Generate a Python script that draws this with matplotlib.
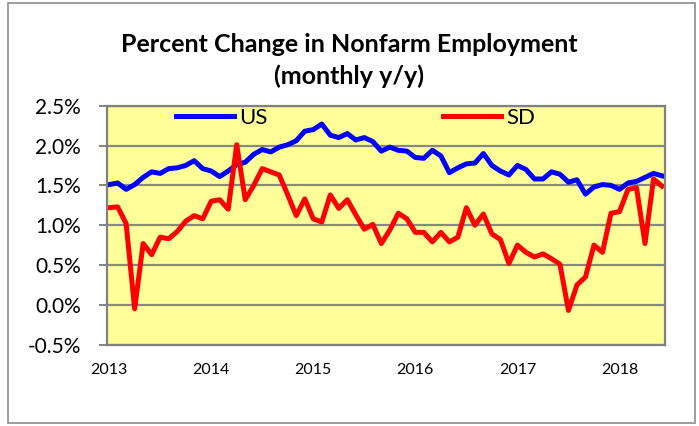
import matplotlib
matplotlib.use('Agg')
import matplotlib.pyplot as plt
from matplotlib.patches import Rectangle

# monthly y/y % change, Jan 2013 - Jun 2018
us = [1.51, 1.53, 1.45, 1.51, 1.60, 1.67, 1.65, 1.71, 1.72, 1.75, 1.81, 1.71,
      1.68, 1.61, 1.68, 1.76, 1.79, 1.89, 1.95, 1.92, 1.98, 2.01, 2.06, 2.18,
      2.20, 2.27, 2.13, 2.10, 2.15, 2.07, 2.10, 2.05, 1.93, 1.98, 1.94, 1.93,
      1.85, 1.84, 1.94, 1.87, 1.66, 1.72, 1.77, 1.78, 1.90, 1.75, 1.68, 1.63,
      1.75, 1.70, 1.58, 1.58, 1.67, 1.64, 1.54, 1.57, 1.39, 1.48, 1.51, 1.50,
      1.45, 1.53, 1.55, 1.60, 1.65, 1.62]
sd = [1.22, 1.23, 1.02, -0.05, 0.77, 0.63, 0.85, 0.83, 0.92, 1.05, 1.12, 1.08,
      1.30, 1.32, 1.20, 2.01, 1.32, 1.50, 1.71, 1.67, 1.63, 1.38, 1.12, 1.33,
      1.08, 1.04, 1.38, 1.21, 1.32, 1.13, 0.95, 1.01, 0.77, 0.94, 1.15, 1.08,
      0.91, 0.91, 0.79, 0.91, 0.79, 0.85, 1.22, 1.00, 1.14, 0.89, 0.82, 0.52,
      0.75, 0.66, 0.60, 0.64, 0.58, 0.51, -0.07, 0.25, 0.35, 0.75, 0.66, 1.15,
      1.17, 1.45, 1.47, 0.77, 1.58, 1.49]
years = ['2013', '2014', '2015', '2016', '2017', '2018']
yticks = [-0.5, 0.0, 0.5, 1.0, 1.5, 2.0, 2.5]

plt.rcParams['font.family'] = ['Lato', 'DejaVu Sans']

fig = plt.figure(figsize=(6.99, 4.26), dpi=100)
# outer chart border
fig.patches.append(Rectangle((8 / 699, 3 / 426), 687 / 699, 420 / 426, transform=fig.transFigure,
                             fill=False, edgecolor='#8c8c8c', linewidth=1.2))

ax = fig.add_axes([107 / 699, (426 - 344.7) / 426, 558 / 699, 239 / 426])
ax.set_facecolor('#FFFF99')

x = list(range(len(us)))
ax.plot(x, us, color='#0000FF', lw=3.6, label='US', solid_joinstyle='round')
ax.plot(x, sd, color='#FF0000', lw=3.6, label='SD', solid_joinstyle='round')

ax.set_ylim(-0.5, 2.5)
ax.set_yticks(yticks)
ax.set_yticklabels([f'{v:.1f}%' for v in yticks], fontsize=15)
ax.set_xlim(-0.25, 65.35)
ax.set_xticks([12 * i for i in range(len(years))])
ax.set_xticklabels(years, fontsize=11.5)
ax.tick_params(axis='x', length=0, pad=13)
ax.tick_params(axis='y', length=5.8, width=1.4, color='#808080', pad=13)

ax.grid(axis='y', color='#878787', lw=1.6)
ax.set_axisbelow(True)
for s in ax.spines.values():
    s.set_color('#808080')
    s.set_linewidth(1.6)

leg = ax.legend(loc='center', bbox_to_anchor=(0.446, 0.948), ncol=2, frameon=False,
                fontsize=16, handlelength=2.6, handletextpad=0.25, columnspacing=7.9,
                borderpad=0, borderaxespad=0)

# two-line title
fig.text(0.5, 1 - 45 / 426, 'Percent Change in Nonfarm Employment', ha='center', va='center',
         fontsize=18, fontweight='bold')
fig.text(0.5, 1 - 76 / 426, '(monthly y/y)', ha='center', va='center',
         fontsize=18, fontweight='bold')

fig.savefig('out.png', dpi=100)
